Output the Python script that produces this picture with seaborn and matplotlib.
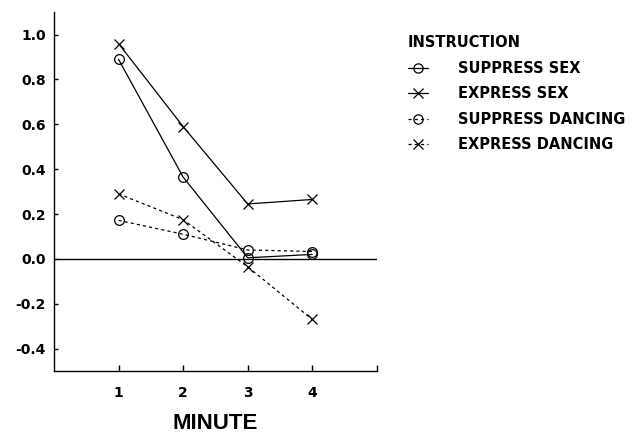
import matplotlib
matplotlib.use("Agg")
import matplotlib.pyplot as plt
import seaborn as sns
import pandas as pd

minutes = [1, 2, 3, 4]
suppress_sex = [0.89, 0.365, 0.005, 0.02]
express_sex = [0.96, 0.59, 0.245, 0.265]
suppress_dancing = [0.172, 0.11, 0.04, 0.033]
express_dancing = [0.29, 0.175, -0.035, -0.27]
series_names = ["SUPPRESS SEX", "EXPRESS SEX", "SUPPRESS DANCING", "EXPRESS DANCING"]
y_ticks = [-0.4, -0.2, 0.0, 0.2, 0.4, 0.6, 0.8, 1.0]
x_ticks = [1, 2, 3, 4, 5]
x_tick_labels = ["1", "2", "3", "4", ""]

rows = []
for name, vals in zip(series_names, [suppress_sex, express_sex, suppress_dancing, express_dancing]):
    for m, v in zip(minutes, vals):
        rows.append({"MINUTE": m, "value": v, "INSTRUCTION": name})
df = pd.DataFrame(rows)

sns.set_theme(style="white")
plt.rcParams['font.family'] = ['DejaVu Sans']
plt.rcParams['text.color'] = 'black'
plt.rcParams['axes.labelcolor'] = 'black'
plt.rcParams['xtick.color'] = 'black'
plt.rcParams['ytick.color'] = 'black'

fig = plt.figure(figsize=(6.42, 4.34), dpi=100)
ax = fig.add_axes([0.084, 0.145, 0.503, 0.827])

markers = {"SUPPRESS SEX": "o", "EXPRESS SEX": "x",
           "SUPPRESS DANCING": "o", "EXPRESS DANCING": "x"}
linestyles = {"SUPPRESS SEX": "-", "EXPRESS SEX": "-",
              "SUPPRESS DANCING": (0, (2.5, 2.5)), "EXPRESS DANCING": (0, (2.5, 2.5))}

for name in series_names:
    sub = df[df["INSTRUCTION"] == name]
    sns.lineplot(data=sub, x="MINUTE", y="value", ax=ax, label=name,
                 color="black", linewidth=0.9, linestyle=linestyles[name],
                 marker=markers[name], markersize=7,
                 markerfacecolor="none", markeredgecolor="black",
                 markeredgewidth=0.9)

ax.axhline(0, color="black", linewidth=1.0, zorder=0)
ax.set_xlim(0, 5)
ax.set_ylim(-0.5, 1.1)
ax.set_xticks(x_ticks)
ax.set_xticklabels(x_tick_labels, fontweight="bold", fontsize=10, color="black")
ax.set_yticks(y_ticks)
ax.set_yticklabels([f"{t:.1f}" for t in y_ticks], fontweight="bold", fontsize=10, color="black")
ax.set_xlabel("MINUTE", fontsize=16, fontweight="bold", labelpad=9, color="black",
              family=["Liberation Sans", "DejaVu Sans"])
ax.set_ylabel("")
for s in ["top", "right"]:
    ax.spines[s].set_visible(False)
for s in ["left", "bottom"]:
    ax.spines[s].set_color("black")
    ax.spines[s].set_linewidth(1.0)
ax.tick_params(axis="x", bottom=True, direction="in", length=4, width=1, colors="black", pad=11)
ax.tick_params(axis="y", left=True, direction="in", length=3, width=1, colors="black", pad=6)

handles, labels = ax.get_legend_handles_labels()
if ax.legend_ is not None:
    ax.legend_.remove()
leg = fig.legend(handles, labels, title="INSTRUCTION", loc="upper left",
                 bbox_to_anchor=(0.615, 0.949), frameon=False,
                 prop={"weight": "bold", "size": 10.5},
                 title_fontproperties={"weight": "bold", "size": 10.5},
                 handlelength=1.4, handletextpad=2.0, labelspacing=0.72,
                 alignment="left", markerscale=0.95, labelcolor="black")
leg.get_title().set_color("black")

fig.savefig("out.png", dpi=100)
